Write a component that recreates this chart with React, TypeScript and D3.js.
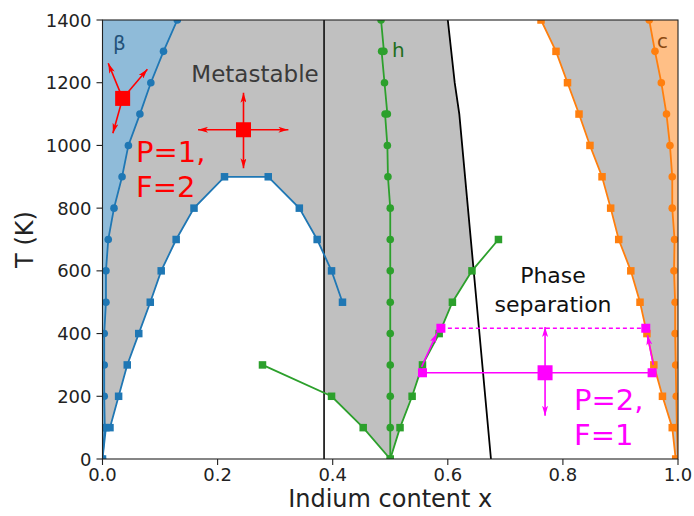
import * as d3 from 'd3';
import React from 'react';

// temperatures of the sampled boundaries (K)
const temps = [0, 100, 200, 300, 400, 500, 600, 700, 800, 900, 1000, 1100, 1200, 1300, 1400];

// beta phase boundary (blue circles)
const betaX = [0, 0.004, 0.003, 0.003, 0.003, 0.006, 0.006, 0.010, 0.020, 0.034, 0.045, 0.065, 0.084, 0.106, 0.130];

// blue dome (squares)
const domeX = [0, 0.006, 0.013, 0.028, 0.043, 0.063, 0.083, 0.102, 0.128, 0.159, 0.212, 0.288, 0.342, 0.373, 0.398, 0.417];
const domeT = [0, 100, 100, 200, 300, 400, 500, 600, 700, 800, 900, 900, 800, 700, 600, 500];

// h phase (green circles)
const hX = [0.5, 0.5, 0.5, 0.5, 0.5, 0.5, 0.5, 0.5, 0.5, 0.496, 0.495, 0.491, 0.495, 0.490, 0.485, 0.489, 0.484];
const hT = [0, 100, 200, 300, 400, 500, 600, 700, 800, 900, 1000, 1100, 1100, 1200, 1300, 1300, 1400];

// green squares
const gsX = [0.278, 0.398, 0.453, 0.5, 0.517, 0.538, 0.556, 0.585, 0.608, 0.642, 0.688];
const gsT = [300, 200, 100, 0, 100, 200, 300, 400, 500, 600, 700];

// c phase: orange squares and circles
const cSqX = [0.996, 0.990, 0.973, 0.958, 0.946, 0.934, 0.918, 0.897, 0.883, 0.868, 0.847, 0.828, 0.808, 0.788, 0.762];
const cCiX = [1.0, 0.998, 0.997, 0.996, 0.995, 0.995, 0.993, 0.994, 0.990, 0.990, 0.986, 0.980, 0.971, 0.960, 0.950];

// black lines
const vLineX = 0.385;
const tiltX = [0.675, 0.620, 0.612, 0.600];
const tiltT = [0, 1100, 1200, 1400];

// annotations
const redPts = [[0.035, 1150], [0.245, 1050]];
const redArrows = [
  [0.035, 1150, 0.010, 1262], [0.035, 1150, 0.078, 1243], [0.035, 1150, 0.018, 1039],
  [0.245, 1050, 0.166, 1050], [0.245, 1050, 0.323, 1050], [0.245, 1050, 0.245, 1168], [0.245, 1050, 0.245, 927],
];
const tieLow = [[0.556, 275], [0.955, 275]];
const tieHigh = [[0.588, 417], [0.944, 417]];
const magCenter = [0.769, 275];
const magArrows = [
  [0.769, 275, 0.769, 421], [0.769, 275, 0.769, 138],
  [0.5545, 294, 0.581, 401], [0.957, 300, 0.947, 395],
];

const xTicks = [0, 0.2, 0.4, 0.6, 0.8, 1.0];
const yTicks = [0, 200, 400, 600, 800, 1000, 1200, 1400];

const W = 694, H = 516;
const FONT = 'DejaVu Sans, sans-serif';
const LW = 1.8;

export default function App() {
  const x = d3.scaleLinear().domain([0, 1]).range([102.5, 678]);
  const y = d3.scaleLinear().domain([0, 1400]).range([459, 20]);
  const line = d3.line<number[]>().x(d => x(d[0])).y(d => y(d[1]));
  const poly = (pts: number[][]) => line(pts) + 'Z';

  const beta = temps.map((t, i) => [betaX[i], t]);
  const dome = domeT.map((t, i) => [domeX[i], t]);
  const hPts = hT.map((t, i) => [hX[i], t]);
  const gs = gsT.map((t, i) => [gsX[i], t]);
  const cSq = temps.map((t, i) => [cSqX[i], t]);
  const cCi = temps.map((t, i) => [cCiX[i], t]);
  const tilt = tiltT.map((t, i) => [tiltX[i], t]);

  const [x0, x1] = x.range();
  const [y0, y1] = y.range();

  const blueFill = poly([[0, 0], ...beta, [0, 1400]]);
  const orangeFill = poly([...cCi, [1, 1400], [1, 0]]);
  const grayRight = poly([...cSq, ...cCi.slice().reverse()]);
  const grayLeft = poly([...beta, [vLineX, 1400], [vLineX, 0]]);
  const domeWhite = poly([...dome, [domeX[domeX.length - 1], 0]]);
  const band = poly([[vLineX, 0], [vLineX, 1400], ...tilt.slice().reverse()]);
  const grayMid = poly([...gs, [gsX[gsX.length - 1], 1400], [gsX[0], 1400]]);

  const sq = (p: number[], s: number, fill: string, key: string) => (
    <rect key={key} x={x(p[0]) - s / 2} y={y(p[1]) - s / 2} width={s} height={s} fill={fill} />
  );

  return (
    <div style={{ position: 'absolute', left: 0, top: 0 }}>
      <svg width={W} height={H} style={{ display: 'block', background: '#fff' }} fontFamily={FONT}>
        <defs>
          <clipPath id="plot"><rect x={x0} y={y1} width={x1 - x0} height={y0 - y1} /></clipPath>
          <clipPath id="leftBand"><rect x={x0} y={y1} width={x(vLineX) - x0} height={y0 - y1} /></clipPath>
          <clipPath id="midBand"><path d={band} /></clipPath>
          <marker id="redHead" viewBox="0 0 10 6" refX="10" refY="3" markerWidth="10" markerHeight="6"
            markerUnits="userSpaceOnUse" orient="auto">
            <path d="M0,0 L10,3 L0,6 L2.5,3 Z" fill="#ff0000" />
          </marker>
          <marker id="magHead" viewBox="0 0 10 6" refX="10" refY="3" markerWidth="10" markerHeight="6"
            markerUnits="userSpaceOnUse" orient="auto">
            <path d="M0,0 L10,3 L0,6 L2.5,3 Z" fill="#ff00ff" />
          </marker>
        </defs>

        <g clipPath="url(#plot)">
          <path d={blueFill} fill="#8fbbd9" />
          <path d={orangeFill} fill="#ffbf86" />
          <path d={grayRight} fill="#c0c0c0" />
          <path d={grayLeft} fill="#c0c0c0" />
          <path d={domeWhite} fill="#fff" clipPath="url(#leftBand)" />
          <path d={grayMid} fill="#c0c0c0" clipPath="url(#midBand)" />

          <line x1={x(vLineX)} x2={x(vLineX)} y1={y(0)} y2={y(1400)} stroke="#222" strokeWidth={LW} />
          <path d={line(tilt)!} fill="none" stroke="#000" strokeWidth={LW} />

          <path d={line(beta)!} fill="none" stroke="#1f77b4" strokeWidth={LW} />
          {beta.map((p, i) => <circle key={'b' + i} cx={x(p[0])} cy={y(p[1])} r={3.8} fill="#1f77b4" />)}
          <path d={line(dome)!} fill="none" stroke="#1f77b4" strokeWidth={LW} />
          {dome.map((p, i) => sq(p, 7.5, '#1f77b4', 'd' + i))}

          <path d={line(hPts)!} fill="none" stroke="#2ca02c" strokeWidth={LW} />
          {hPts.map((p, i) => <circle key={'h' + i} cx={x(p[0])} cy={y(p[1])} r={3.8} fill="#2ca02c" />)}
          <path d={line(gs)!} fill="none" stroke="#2ca02c" strokeWidth={LW} />
          {gs.map((p, i) => sq(p, 7.5, '#2ca02c', 'g' + i))}

          <path d={line(cSq)!} fill="none" stroke="#ff7f0e" strokeWidth={LW} />
          {cSq.map((p, i) => sq(p, 7.5, '#ff7f0e', 'o' + i))}
          <path d={line(cCi)!} fill="none" stroke="#ff7f0e" strokeWidth={LW} />
          {cCi.map((p, i) => <circle key={'c' + i} cx={x(p[0])} cy={y(p[1])} r={3.8} fill="#ff7f0e" />)}

          {/* magenta tie lines */}
          <path d={line(tieLow)!} fill="none" stroke="#ff00ff" strokeWidth={1.6} />
          <path d={line(tieHigh)!} fill="none" stroke="#ff00ff" strokeWidth={1.6} strokeDasharray="4,3" />
          {magArrows.map((a, i) => (
            <line key={'ma' + i} x1={x(a[0])} y1={y(a[1])} x2={x(a[2])} y2={y(a[3])}
              stroke="#ff00ff" strokeWidth={1.6} markerEnd="url(#magHead)" />
          ))}
          {[...tieLow, ...tieHigh].map((p, i) => sq(p, 9, '#ff00ff', 'm' + i))}
          {sq(magCenter, 15, '#ff00ff', 'mc')}

          {/* red free points */}
          {redArrows.map((a, i) => (
            <line key={'ra' + i} x1={x(a[0])} y1={y(a[1])} x2={x(a[2])} y2={y(a[3])}
              stroke="#ff0000" strokeWidth={1.6} markerEnd="url(#redHead)" />
          ))}
          {redPts.map((p, i) => sq(p, 15, '#ff0000', 'r' + i))}
        </g>

        {/* labels inside plot */}
        <text x={113} y={50} fontSize={20} fill="#23527a">β</text>
        <text x={392} y={57} fontSize={20} fill="#1e6e1e">h</text>
        <text x={657} y={48} fontSize={20} fill="#8c4a10">c</text>
        <text x={255} y={82} fontSize={23} fill="#3a3a3a" textAnchor="middle">Metastable</text>
        <text x={553} y={283} fontSize={22} fill="#111" textAnchor="middle">Phase</text>
        <text x={553} y={312} fontSize={22} fill="#111" textAnchor="middle">separation</text>
        <text x={136} y={162} fontSize={29} fill="#ff0000">P=1,</text>
        <text x={136} y={197} fontSize={29} fill="#ff0000">F=2</text>
        <text x={574} y={410} fontSize={29} fill="#ff00ff">P=2,</text>
        <text x={574} y={445} fontSize={29} fill="#ff00ff">F=1</text>

        {/* axes */}
        <rect x={x0} y={y1} width={x1 - x0} height={y0 - y1} fill="none" stroke="#222" strokeWidth={1.1} />
        {xTicks.map(t => (
          <g key={'xt' + t}>
            <line x1={x(t)} x2={x(t)} y1={y0} y2={y0 + 6} stroke="#222" strokeWidth={1.1} />
            <text x={x(t)} y={y0 + 22} fontSize={18} textAnchor="middle" fill="#222">{d3.format('.1f')(t)}</text>
          </g>
        ))}
        {yTicks.map(t => (
          <g key={'yt' + t}>
            <line x1={x0 - 6} x2={x0} y1={y(t)} y2={y(t)} stroke="#222" strokeWidth={1.1} />
            <text x={x0 - 11} y={y(t) + 6.5} fontSize={18} textAnchor="end" fill="#222">{t}</text>
          </g>
        ))}
        <text x={(x0 + x1) / 2} y={507} fontSize={24} textAnchor="middle" fill="#222">Indium content x</text>
        <text transform={`translate(33,${(y0 + y1) / 2}) rotate(-90)`} fontSize={24} textAnchor="middle" fill="#222">T (K)</text>
      </svg>
    </div>
  );
}
